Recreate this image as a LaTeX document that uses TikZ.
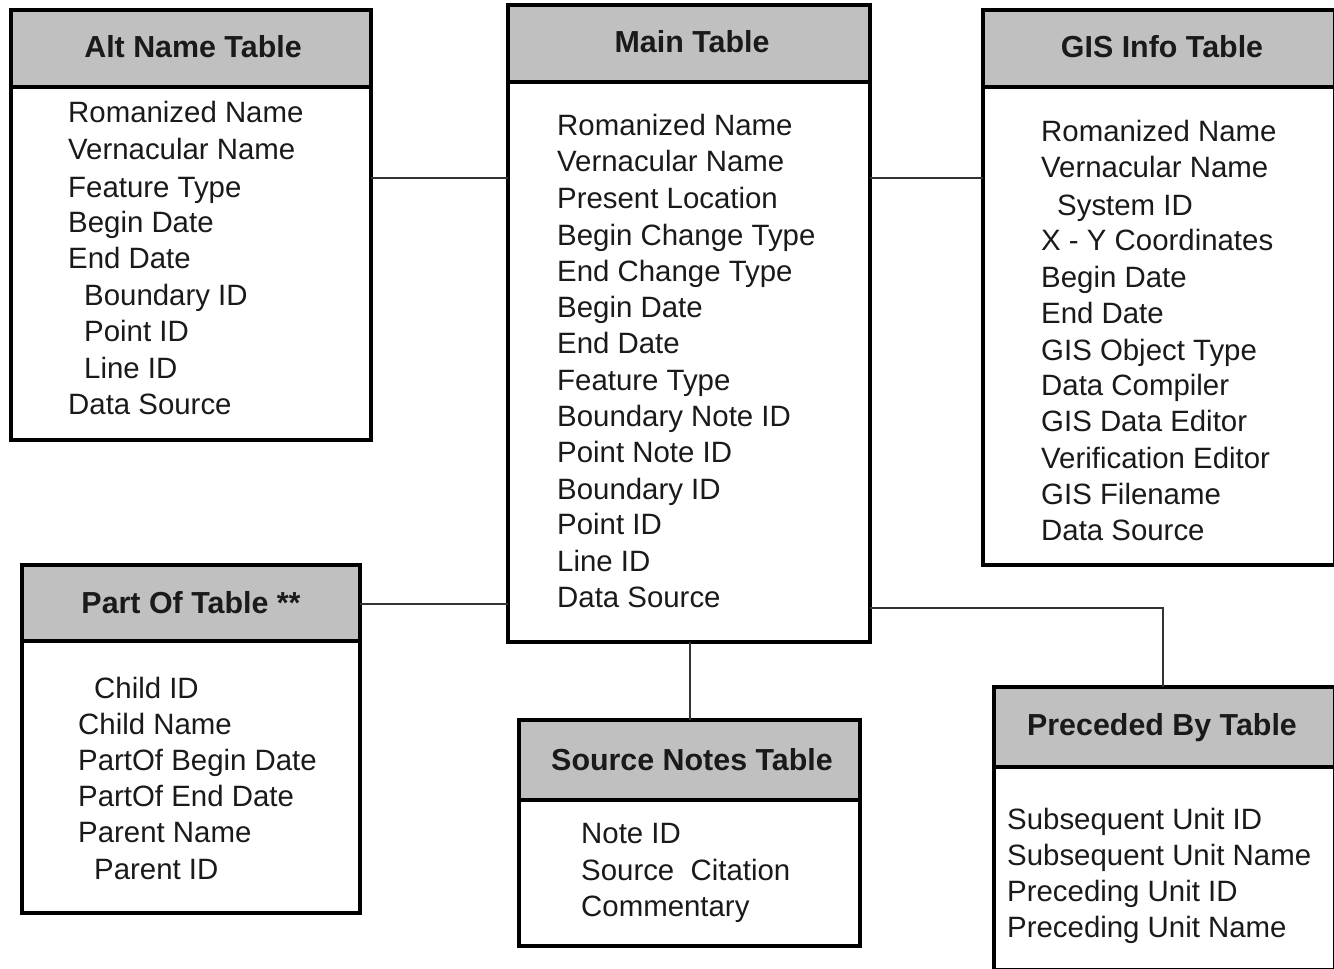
\documentclass[tikz,border=0pt]{standalone}
\usepackage{fontspec}
\setmainfont{Liberation Sans}
\definecolor{hgray}{HTML}{C0C0C0}
\definecolor{txt}{HTML}{1A1A1A}
\definecolor{linec}{HTML}{333333}
\tikzset{
  tbl/.style={draw=black, line width=4.5pt, fill=white, rectangle, inner sep=0pt, outer sep=0pt, anchor=north west},
  hdr/.style={draw=black, line width=4.5pt, fill=hgray, rectangle, inner sep=0pt, outer sep=0pt, anchor=north west},
  ttl/.style={font=\fontsize{30.4}{34}\selectfont\bfseries, text=txt, anchor=base, inner sep=0pt},
  itm/.style={font=\fontsize{29.4}{34}\selectfont, text=txt, anchor=base west, inner sep=0pt},
  link/.style={draw=linec, line width=1.5pt},
}
\begin{document}
\begin{tikzpicture}[x=1pt,y=-1pt]
\useasboundingbox (0,0) rectangle (1334,969);
\clip (0,0) rectangle (1334,969);
\fill[white] (0,0) rectangle (1334,969);

\coordinate (yA) at (0,178);
\coordinate (yB) at (0,604);
\coordinate (yC) at (0,608);
\coordinate (xC) at (1163,0);
\coordinate (xS) at (690,0);

% Alt Name Table
\node[tbl, minimum width=360pt, minimum height=430pt] (alt) at (11,10) {};
\node[hdr, minimum width=360pt, minimum height=77pt] (altH) at (11,10) {};
\node[ttl] (altT) at (193,57) {Alt Name Table};

% Main Table
\node[tbl, minimum width=362pt, minimum height=637pt] (main) at (508,5) {};
\node[hdr, minimum width=362pt, minimum height=77pt] (mainH) at (508,5) {};
\node[ttl] (mainT) at (692,52) {Main Table};

% GIS Info Table
\node[tbl, minimum width=352pt, minimum height=555pt] (gis) at (983,10) {};
\node[hdr, minimum width=352pt, minimum height=77pt] (gisH) at (983,10) {};
\node[ttl] (gisT) at (1162,57) {GIS Info Table};

% Part Of Table
\node[tbl, minimum width=338pt, minimum height=348pt] (part) at (22,565) {};
\node[hdr, minimum width=338pt, minimum height=76pt] (partH) at (22,565) {};
\node[ttl] (partT) at (191,613) {Part Of Table **};

% Source Notes Table
\node[tbl, minimum width=341pt, minimum height=226pt] (src) at (519,720) {};
\node[hdr, minimum width=341pt, minimum height=80pt] (srcH) at (519,720) {};
\node[ttl] (srcT) at (692,770) {Source Notes Table};

% Preceded By Table
\node[tbl, minimum width=341pt, minimum height=283pt] (prec) at (994,687) {};
\node[hdr, minimum width=341pt, minimum height=80pt] (precH) at (994,687) {};
\node[ttl] (precT) at (1162,735) {Preceded By Table};

% connectors
\draw[link] (alt.east |- yA) -- (main.west |- yA);
\draw[link] (main.east |- yA) -- (gis.west |- yA);
\draw[link] (part.east |- yB) -- (main.west |- yB);
\draw[link] (main.south -| xS) -- (src.north -| xS);
\draw[link] (main.east |- yC) -- (xC |- yC) -- (precH.north -| xC);

% items
\foreach \t/\x/\y [count=\i] in {Romanized Name/68/112, Vernacular Name/68/149, Feature Type/68/187, Begin Date/68/222, End Date/68/258, Boundary ID/84/295, Point ID/84/331, Line ID/84/368, Data Source/68/404}
  \node[itm] (alt\i) at (\x,\y+10.5) {\t};

\foreach \t/\y [count=\i] in {Romanized Name/125, Vernacular Name/161, Present Location/198, Begin Change Type/235, End Change Type/271, Begin Date/307, End Date/343, Feature Type/380, Boundary Note ID/416, Point Note ID/452, Boundary ID/489, Point ID/524, Line ID/561, Data Source/597}
  \node[itm] (main\i) at (557,\y+10.5) {\t};

\foreach \t/\x/\y [count=\i] in {Romanized Name/1041/131, Vernacular Name/1041/167, System ID/1057/205, X - Y Coordinates/1041/240, Begin Date/1041/277, End Date/1041/313, GIS Object Type/1041/350, Data Compiler/1041/385, GIS Data Editor/1041/421, Verification Editor/1041/458, GIS Filename/1041/494, Data Source/1041/530}
  \node[itm] (gis\i) at (\x,\y+10.5) {\t};

\foreach \t/\x/\y [count=\i] in {Child ID/94/688, Child Name/78/724, PartOf Begin Date/78/760, PartOf End Date/78/796, Parent Name/78/832, Parent ID/94/869}
  \node[itm] (part\i) at (\x,\y+10.5) {\t};

\node[itm] (src1) at (581,843.5) {Note ID};
\node[itm] (src2) at (581,880.5) {Source\ \ Citation};
\node[itm] (src3) at (581,916.5) {Commentary};

\foreach \t/\y [count=\i] in {Subsequent Unit ID/819, Subsequent Unit Name/855, Preceding Unit ID/891, Preceding Unit Name/927}
  \node[itm] (prec\i) at (1007,\y+10.5) {\t};
\end{tikzpicture}
\end{document}
